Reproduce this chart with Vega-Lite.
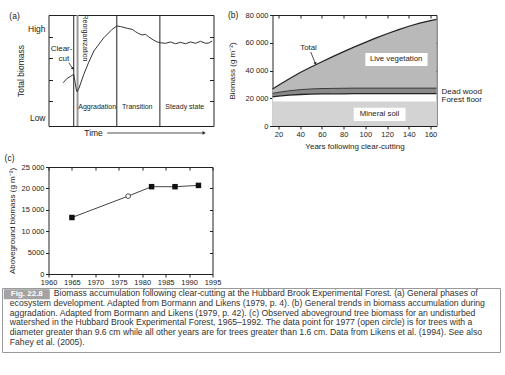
{
  "$schema": "https://vega.github.io/schema/vega-lite/v6.json",
  "padding": {"left": 1.5, "top": 5, "right": 0, "bottom": 0},
  "spacing": 0.5,
  "config": {
    "font": "Liberation Sans",
    "view": {"stroke": "#222", "strokeWidth": 1},
    "axis": {"grid": false, "domain": false, "labelFontSize": 7.5, "labelColor": "#222", "tickColor": "#222", "titleFontSize": 8, "titleFontWeight": "normal", "titleColor": "#222", "tickSize": 3, "labelPadding": 1.5, "labelFlush": false, "labelOverlap": false},
    "text": {"color": "#222"}
  },
  "datasets": {
    "curve": [
      {"t": 8.9, "b": 39.0}, {"t": 11.3, "b": 43.0}, {"t": 13.3, "b": 44.6}, {"t": 15.3, "b": 46.6},
      {"t": 17.0, "b": 31.5}, {"t": 17.4, "b": 30.9}, {"t": 18.5, "b": 34.2}, {"t": 21.4, "b": 46.6},
      {"t": 24.2, "b": 56.8}, {"t": 27.5, "b": 67.6}, {"t": 33.5, "b": 79.5}, {"t": 38.6, "b": 87.1},
      {"t": 41.4, "b": 90.1}, {"t": 43.6, "b": 89.6}, {"t": 47.7, "b": 88.0}, {"t": 50.7, "b": 87.1},
      {"t": 52.7, "b": 85.0}, {"t": 54.7, "b": 83.2}, {"t": 56.8, "b": 82.0}, {"t": 58.8, "b": 82.6},
      {"t": 60.8, "b": 80.2}, {"t": 63.8, "b": 77.3}, {"t": 65.9, "b": 75.7}, {"t": 67.9, "b": 75.0},
      {"t": 70.9, "b": 74.5}, {"t": 73.9, "b": 75.7}, {"t": 77.0, "b": 74.1}, {"t": 80.0, "b": 75.4},
      {"t": 83.0, "b": 74.1}, {"t": 86.1, "b": 75.7}, {"t": 89.1, "b": 74.5}, {"t": 92.1, "b": 76.3},
      {"t": 95.2, "b": 74.5}, {"t": 97.2, "b": 74.8}, {"t": 99.2, "b": 76.6}
    ],
    "bio": [
      {"year": 14.5, "total": 26700, "deadwood": 23500, "floor": 21000, "soil": 17700},
      {"year": 20, "total": 29300, "deadwood": 24300, "floor": 21600, "soil": 17700},
      {"year": 30, "total": 34000, "deadwood": 25400, "floor": 22300, "soil": 17700},
      {"year": 40, "total": 38500, "deadwood": 26200, "floor": 22700, "soil": 17700},
      {"year": 50, "total": 42500, "deadwood": 26700, "floor": 23000, "soil": 17700},
      {"year": 60, "total": 46300, "deadwood": 27000, "floor": 23100, "soil": 17700},
      {"year": 70, "total": 50000, "deadwood": 27100, "floor": 23200, "soil": 17700},
      {"year": 80, "total": 53600, "deadwood": 27200, "floor": 23200, "soil": 17700},
      {"year": 90, "total": 57000, "deadwood": 27300, "floor": 23300, "soil": 17700},
      {"year": 100, "total": 60300, "deadwood": 27300, "floor": 23300, "soil": 17700},
      {"year": 110, "total": 63500, "deadwood": 27300, "floor": 23300, "soil": 17700},
      {"year": 120, "total": 66500, "deadwood": 27300, "floor": 23300, "soil": 17700},
      {"year": 130, "total": 69300, "deadwood": 27300, "floor": 23300, "soil": 17700},
      {"year": 140, "total": 71900, "deadwood": 27300, "floor": 23300, "soil": 17700},
      {"year": 150, "total": 74100, "deadwood": 27300, "floor": 23300, "soil": 17700},
      {"year": 160, "total": 75900, "deadwood": 27300, "floor": 23300, "soil": 17700},
      {"year": 165.5, "total": 76800, "deadwood": 27300, "floor": 23300, "soil": 17700}
    ],
    "hb": [
      {"year": 1965, "biomass": 13200, "dbh": "> 1.6 cm"},
      {"year": 1977, "biomass": 18200, "dbh": "> 9.6 cm"},
      {"year": 1982, "biomass": 20400, "dbh": "> 1.6 cm"},
      {"year": 1987, "biomass": 20400, "dbh": "> 1.6 cm"},
      {"year": 1992, "biomass": 20700, "dbh": "> 1.6 cm"}
    ],
    "caption": [
      {"line": 1, "text": "Biomass accumulation following clear-cutting at the Hubbard Brook Experimental Forest. (a) General phases of"},
      {"line": 2, "text": "ecosystem development. Adapted from Bormann and Likens (1979, p. 4). (b) General trends in biomass accumulation during"},
      {"line": 3, "text": "aggradation. Adapted from Bormann and Likens (1979, p. 42). (c) Observed aboveground tree biomass for an undisturbed"},
      {"line": 4, "text": "watershed in the Hubbard Brook Experimental Forest, 1965–1992. The data point for 1977 (open circle) is for trees with a"},
      {"line": 5, "text": "diameter greater than 9.6 cm while all other years are for trees greater than 1.6 cm. Data from Likens et al. (1994). See also"},
      {"line": 6, "text": "Fahey et al. (2005)."}
    ]
  },
  "vconcat": [
    {
      "spacing": 0,
      "vconcat": [
        {
          "bounds": "flush",
          "spacing": 59,
          "hconcat": [
            {
              "width": 165, "height": 111,
              "layer": [
                {
                  "data": {"values": [{}]},
                  "mark": {"type": "rule", "opacity": 0},
                  "encoding": {
                    "x": {"datum": -28.18, "type": "quantitative", "scale": {"domain": [0, 100], "nice": false}, "axis": null},
                    "y": {"datum": 108.1, "type": "quantitative", "scale": {"domain": [0, 100], "nice": false}, "axis": null},
                    "y2": {"datum": -22.5}
                  }
                },
                {
                  "data": {"values": [{"t": 15.3, "event": "clear-cut"}, {"t": 41.4, "event": "end of aggradation"}, {"t": 67.5, "event": "end of transition"}]},
                  "mark": {"type": "rule", "color": "#222", "strokeWidth": 1},
                  "encoding": {"x": {"field": "t", "type": "quantitative", "scale": {"domain": [0, 100], "nice": false}, "axis": null}}
                },
                {
                  "data": {"values": [{"t": 17.6, "event": "reorganization"}]},
                  "mark": {"type": "rule", "color": "#999", "strokeWidth": 2},
                  "encoding": {"x": {"field": "t", "type": "quantitative", "scale": {"domain": [0, 100], "nice": false}, "axis": null}}
                },
                {
                  "data": {"name": "curve"},
                  "mark": {"type": "line", "color": "#333", "strokeWidth": 1},
                  "encoding": {
                    "x": {"field": "t", "type": "quantitative", "scale": {"domain": [0, 100], "nice": false}, "axis": null},
                    "y": {"field": "b", "type": "quantitative", "scale": {"domain": [0, 100], "nice": false},
                      "axis": {"orient": "left", "values": [8.1, 22.5, 41.4, 61.3, 80.2, 87.4],
                        "labelExpr": "datum.value < 10 ? 'Low' : (datum.value > 85 ? 'High' : '')",
                        "tickSize": -4,
                        "tickOpacity": {"condition": {"test": "datum.value < 10 || datum.value > 85", "value": 0}, "value": 1},
                        "labelFontSize": 8.5, "labelPadding": 7.5, "title": "Total biomass", "titleFontSize": 8.5, "titlePadding": 2}}
                  }
                },
                {
                  "data": {"values": [{"b": 50}]},
                  "mark": {"type": "point", "opacity": 0},
                  "encoding": {
                    "y": {"field": "b", "type": "quantitative", "scale": {"domain": [0, 100], "nice": false},
                      "axis": {"orient": "right", "values": [22.5, 41.4, 61.3, 80.2], "tickSize": -4, "labels": false, "title": null}}
                  }
                },
                {
                  "data": {"values": [{"label": "Aggradation", "t": 29.5, "b": 17.1}, {"label": "Transition", "t": 53.8, "b": 17.1}, {"label": "Steady state", "t": 82.6, "b": 17.1}]},
                  "mark": {"type": "text", "fontSize": 7},
                  "encoding": {
                    "x": {"field": "t", "type": "quantitative", "scale": {"domain": [0, 100], "nice": false}, "axis": null},
                    "y": {"field": "b", "type": "quantitative", "scale": {"domain": [0, 100], "nice": false}, "axis": null},
                    "text": {"field": "label"}
                  }
                },
                {
                  "data": {"values": [{"label": "Clear-", "t": 7.9, "b": 69.1}, {"label": "cut", "t": 9.3, "b": 60.1}]},
                  "mark": {"type": "text", "fontSize": 8},
                  "encoding": {
                    "x": {"field": "t", "type": "quantitative", "scale": {"domain": [0, 100], "nice": false}, "axis": null},
                    "y": {"field": "b", "type": "quantitative", "scale": {"domain": [0, 100], "nice": false}, "axis": null},
                    "text": {"field": "label"}
                  }
                },
                {
                  "data": {"values": [{"label": "Reorganization", "t": 22.4, "b": 79.3}]},
                  "mark": {"type": "text", "fontSize": 7, "angle": 90},
                  "encoding": {
                    "x": {"field": "t", "type": "quantitative", "scale": {"domain": [0, 100], "nice": false}, "axis": null},
                    "y": {"field": "b", "type": "quantitative", "scale": {"domain": [0, 100], "nice": false}, "axis": null},
                    "text": {"field": "label"}
                  }
                },
                {
                  "data": {"values": [{"label": "(a)", "t": -20.6, "b": 99.5}, {"label": "Time", "t": 27.3, "b": -6.3}]},
                  "mark": {"type": "text", "fontSize": 8.5},
                  "encoding": {
                    "x": {"field": "t", "type": "quantitative", "scale": {"domain": [0, 100], "nice": false}, "axis": null},
                    "y": {"field": "b", "type": "quantitative", "scale": {"domain": [0, 100], "nice": false}, "axis": null},
                    "text": {"field": "label"}
                  }
                },
                {
                  "data": {"values": [{}]},
                  "mark": {"type": "rule", "color": "#222", "strokeWidth": 0.8},
                  "encoding": {
                    "x": {"datum": 35.6, "type": "quantitative", "scale": {"domain": [0, 100], "nice": false}, "axis": null},
                    "x2": {"datum": 93.5},
                    "y": {"datum": -6.3, "type": "quantitative", "scale": {"domain": [0, 100], "nice": false}, "axis": null}
                  }
                },
                {
                  "data": {"values": [{}]},
                  "mark": {"type": "point", "shape": "triangle-right", "filled": true, "size": 14, "color": "#222", "opacity": 1},
                  "encoding": {
                    "x": {"datum": 94.3, "type": "quantitative", "scale": {"domain": [0, 100], "nice": false}, "axis": null},
                    "y": {"datum": -6.3, "type": "quantitative", "scale": {"domain": [0, 100], "nice": false}, "axis": null}
                  }
                },
                {
                  "data": {"values": [{}]},
                  "mark": {"type": "rule", "color": "#222", "strokeWidth": 0.8},
                  "encoding": {
                    "x": {"datum": 12.3, "type": "quantitative", "scale": {"domain": [0, 100], "nice": false}, "axis": null},
                    "x2": {"datum": 14.6},
                    "y": {"datum": 57.0, "type": "quantitative", "scale": {"domain": [0, 100], "nice": false}, "axis": null},
                    "y2": {"datum": 52.0}
                  }
                },
                {
                  "data": {"values": [{}]},
                  "mark": {"type": "point", "shape": "triangle", "angle": 149, "filled": true, "size": 10, "color": "#222", "opacity": 1},
                  "encoding": {
                    "x": {"datum": 14.6, "type": "quantitative", "scale": {"domain": [0, 100], "nice": false}, "axis": null},
                    "y": {"datum": 52.0, "type": "quantitative", "scale": {"domain": [0, 100], "nice": false}, "axis": null}
                  }
                }
              ],
              "resolve": {"axis": {"x": "independent", "y": "independent"}}
            },
            {
              "width": 164, "height": 111,
              "data": {"name": "bio"},
              "layer": [
                {
                  "mark": {"type": "area", "color": "#b9b9b9", "opacity": 1},
                  "encoding": {
                    "x": {"field": "year", "type": "quantitative", "scale": {"domain": [14.5, 165.5], "nice": false},
                      "axis": {"orient": "bottom", "values": [20, 40, 60, 80, 100, 120, 140, 160], "title": "Years following clear-cutting", "titlePadding": 4}},
                    "y": {"field": "total", "type": "quantitative", "scale": {"domain": [0, 80000], "nice": false},
                      "axis": {"orient": "left", "values": [0, 20000, 40000, 60000, 80000],
                        "labelExpr": "datum.value >= 10000 ? replace(format(datum.value, ','), ',', ' ') : format(datum.value, 'd')",
                        "title": "Biomass (g m⁻²)", "titlePadding": 9}}
                  }
                },
                {
                  "mark": {"type": "area", "color": "#8a8a8a", "opacity": 1},
                  "encoding": {
                    "x": {"field": "year", "type": "quantitative", "scale": {"domain": [14.5, 165.5], "nice": false}, "axis": null},
                    "y": {"field": "deadwood", "type": "quantitative", "scale": {"domain": [0, 80000], "nice": false}, "axis": null}
                  }
                },
                {
                  "mark": {"type": "area", "color": "#ffffff", "opacity": 1},
                  "encoding": {
                    "x": {"field": "year", "type": "quantitative", "scale": {"domain": [14.5, 165.5], "nice": false}, "axis": null},
                    "y": {"field": "floor", "type": "quantitative", "scale": {"domain": [0, 80000], "nice": false}, "axis": null}
                  }
                },
                {
                  "mark": {"type": "area", "color": "#d3d3d3", "opacity": 1},
                  "encoding": {
                    "x": {"field": "year", "type": "quantitative", "scale": {"domain": [14.5, 165.5], "nice": false}, "axis": null},
                    "y": {"field": "soil", "type": "quantitative", "scale": {"domain": [0, 80000], "nice": false}, "axis": null}
                  }
                },
                {
                  "mark": {"type": "line", "color": "#222", "strokeWidth": 1.2},
                  "encoding": {
                    "x": {"field": "year", "type": "quantitative", "scale": {"domain": [14.5, 165.5], "nice": false},
                      "axis": {"orient": "top", "values": [20, 40, 60, 80, 100, 120, 140, 160], "tickSize": -3, "labels": false, "title": null}},
                    "y": {"field": "total", "type": "quantitative", "scale": {"domain": [0, 80000], "nice": false},
                      "axis": {"orient": "right", "values": [0, 20000, 40000, 60000, 80000], "tickSize": -3, "labels": false, "title": null}}
                  }
                },
                {
                  "mark": {"type": "line", "color": "#222", "strokeWidth": 0.8},
                  "encoding": {
                    "x": {"field": "year", "type": "quantitative", "scale": {"domain": [14.5, 165.5], "nice": false}, "axis": null},
                    "y": {"field": "deadwood", "type": "quantitative", "scale": {"domain": [0, 80000], "nice": false}, "axis": null}
                  }
                },
                {
                  "mark": {"type": "line", "color": "#222", "strokeWidth": 1.3},
                  "encoding": {
                    "x": {"field": "year", "type": "quantitative", "scale": {"domain": [14.5, 165.5], "nice": false}, "axis": null},
                    "y": {"field": "floor", "type": "quantitative", "scale": {"domain": [0, 80000], "nice": false}, "axis": null}
                  }
                },
                {
                  "data": {"values": [{}]},
                  "mark": {"type": "rule", "opacity": 0},
                  "encoding": {
                    "x": {"datum": 40.3, "type": "quantitative", "scale": {"domain": [14.5, 165.5], "nice": false}, "axis": null},
                    "y": {"datum": 86486, "type": "quantitative", "scale": {"domain": [0, 80000], "nice": false}, "axis": null},
                    "y2": {"datum": -18018}
                  }
                },
                {
                  "data": {"values": [{"label": "Live vegetation"}]},
                  "mark": {"type": "rect", "color": "#ffffff"},
                  "encoding": {
                    "x": {"datum": 100, "type": "quantitative", "scale": {"domain": [14.5, 165.5], "nice": false}, "axis": null},
                    "x2": {"datum": 157.3},
                    "y": {"datum": 43240, "type": "quantitative", "scale": {"domain": [0, 80000], "nice": false}, "axis": null},
                    "y2": {"datum": 52610}
                  }
                },
                {
                  "data": {"values": [{"label": "Mineral soil"}]},
                  "mark": {"type": "rect", "color": "#ffffff"},
                  "encoding": {
                    "x": {"datum": 89.3, "type": "quantitative", "scale": {"domain": [14.5, 165.5], "nice": false}, "axis": null},
                    "x2": {"datum": 137},
                    "y": {"datum": 3600, "type": "quantitative", "scale": {"domain": [0, 80000], "nice": false}, "axis": null},
                    "y2": {"datum": 13190}
                  }
                },
                {
                  "data": {"values": [{"label": "Live vegetation", "yr": 128.3, "g": 48070}, {"label": "Mineral soil", "yr": 113, "g": 8650}, {"label": "Total", "yr": 47.7, "g": 56430}]},
                  "mark": {"type": "text", "fontSize": 7.8},
                  "encoding": {
                    "x": {"field": "yr", "type": "quantitative", "scale": {"domain": [14.5, 165.5], "nice": false}, "axis": null},
                    "y": {"field": "g", "type": "quantitative", "scale": {"domain": [0, 80000], "nice": false}, "axis": null},
                    "text": {"field": "label"}
                  }
                },
                {
                  "data": {"values": [{"label": "Dead wood", "yr": 170.1, "g": 24860}, {"label": "Forest floor", "yr": 170.1, "g": 18520}]},
                  "mark": {"type": "text", "fontSize": 8, "align": "left"},
                  "encoding": {
                    "x": {"field": "yr", "type": "quantitative", "scale": {"domain": [14.5, 165.5], "nice": false}, "axis": null},
                    "y": {"field": "g", "type": "quantitative", "scale": {"domain": [0, 80000], "nice": false}, "axis": null},
                    "text": {"field": "label"}
                  }
                },
                {
                  "data": {"values": [{"label": "(b)", "yr": -21.8, "g": 79640}]},
                  "mark": {"type": "text", "fontSize": 8.5},
                  "encoding": {
                    "x": {"field": "yr", "type": "quantitative", "scale": {"domain": [14.5, 165.5], "nice": false}, "axis": null},
                    "y": {"field": "g", "type": "quantitative", "scale": {"domain": [0, 80000], "nice": false}, "axis": null},
                    "text": {"field": "label"}
                  }
                },
                {
                  "data": {"values": [{}]},
                  "mark": {"type": "rule", "color": "#222", "strokeWidth": 0.8},
                  "encoding": {
                    "x": {"datum": 49.7, "type": "quantitative", "scale": {"domain": [14.5, 165.5], "nice": false}, "axis": null},
                    "x2": {"datum": 53.9},
                    "y": {"datum": 53330, "type": "quantitative", "scale": {"domain": [0, 80000], "nice": false}, "axis": null},
                    "y2": {"datum": 45300}
                  }
                },
                {
                  "data": {"values": [{}]},
                  "mark": {"type": "point", "shape": "triangle", "angle": 158, "filled": true, "size": 10, "color": "#222", "opacity": 1},
                  "encoding": {
                    "x": {"datum": 53.9, "type": "quantitative", "scale": {"domain": [14.5, 165.5], "nice": false}, "axis": null},
                    "y": {"datum": 45300, "type": "quantitative", "scale": {"domain": [0, 80000], "nice": false}, "axis": null}
                  }
                }
              ],
              "resolve": {"axis": {"x": "independent", "y": "independent"}}
            }
          ]
        },
        {
          "width": 164, "height": 107,
          "data": {"name": "hb"},
          "layer": [
            {
              "data": {"values": [{}]},
              "mark": {"type": "rule", "opacity": 0},
              "encoding": {
                "x": {"datum": 1950.08, "type": "quantitative", "scale": {"domain": [1960, 1995], "nice": false, "zero": false}, "axis": null},
                "y": {"datum": 28271, "type": "quantitative", "scale": {"domain": [0, 25000], "nice": false}, "axis": null},
                "y2": {"datum": -2804}
              }
            },
            {
              "mark": {"type": "line", "color": "#444", "strokeWidth": 1},
              "encoding": {
                "x": {"field": "year", "type": "quantitative", "scale": {"domain": [1960, 1995], "nice": false, "zero": false},
                  "axis": {"orient": "bottom", "values": [1960, 1965, 1970, 1975, 1980, 1985, 1990, 1995], "format": "d", "title": null}},
                "y": {"field": "biomass", "type": "quantitative", "scale": {"domain": [0, 25000], "nice": false},
                  "axis": {"orient": "left", "values": [0, 5000, 10000, 15000, 20000, 25000],
                    "labelExpr": "datum.value >= 10000 ? replace(format(datum.value, ','), ',', ' ') : format(datum.value, 'd')",
                    "title": "Aboveground biomass (g m⁻²)", "titlePadding": 5}}
              }
            },
            {
              "transform": [{"filter": "datum.dbh == '> 1.6 cm'"}],
              "mark": {"type": "square", "color": "#111", "size": 30, "opacity": 1},
              "encoding": {
                "x": {"field": "year", "type": "quantitative", "scale": {"domain": [1960, 1995], "nice": false, "zero": false},
                  "axis": {"orient": "top", "values": [1960, 1965, 1970, 1975, 1980, 1985, 1990, 1995], "tickSize": -3, "labels": false, "title": null}},
                "y": {"field": "biomass", "type": "quantitative", "scale": {"domain": [0, 25000], "nice": false},
                  "axis": {"orient": "right", "values": [0, 5000, 10000, 15000, 20000, 25000], "tickSize": -3, "labels": false, "title": null}}
              }
            },
            {
              "transform": [{"filter": "datum.dbh == '> 9.6 cm'"}],
              "mark": {"type": "point", "shape": "circle", "filled": true, "fill": "#ffffff", "stroke": "#222", "strokeWidth": 0.8, "size": 22, "opacity": 1},
              "encoding": {
                "x": {"field": "year", "type": "quantitative", "scale": {"domain": [1960, 1995], "nice": false, "zero": false}, "axis": null},
                "y": {"field": "biomass", "type": "quantitative", "scale": {"domain": [0, 25000], "nice": false}, "axis": null}
              }
            },
            {
              "data": {"values": [{"label": "(c)", "year": 1951.68, "biomass": 27100}]},
              "mark": {"type": "text", "fontSize": 8.5},
              "encoding": {
                "x": {"field": "year", "type": "quantitative", "scale": {"domain": [1960, 1995], "nice": false, "zero": false}, "axis": null},
                "y": {"field": "biomass", "type": "quantitative", "scale": {"domain": [0, 25000], "nice": false}, "axis": null},
                "text": {"field": "label"}
              }
            }
          ],
          "resolve": {"axis": {"x": "independent", "y": "independent"}}
        }
      ]
    },
    {
      "width": 452, "height": 64,
      "view": {"stroke": null},
      "layer": [
        {
          "data": {"values": [{"caption": "Fig. 22.8"}]},
          "mark": {"type": "rect", "fill": null, "stroke": "#9a9a9a", "strokeWidth": 1},
          "encoding": {
            "x": {"datum": -46, "type": "quantitative", "scale": {"domain": [0, 452], "nice": false}, "axis": null},
            "x2": {"datum": 452},
            "y": {"datum": 0.513, "type": "quantitative", "scale": {"domain": [0.513, 7.138], "nice": false, "zero": false, "reverse": true}, "axis": null},
            "y2": {"datum": 7.138}
          }
        },
        {
          "data": {"values": [{"fig": "Fig. 22.8"}]},
          "mark": {"type": "rect", "color": "#a3a3a3"},
          "encoding": {
            "x": {"datum": -44.7, "type": "quantitative", "scale": {"domain": [0, 452], "nice": false}, "axis": null},
            "x2": {"datum": 1.3},
            "y": {"datum": 0.585, "type": "quantitative", "scale": {"domain": [0.513, 7.138], "nice": false, "zero": false, "reverse": true}, "axis": null},
            "y2": {"datum": 1.621}
          }
        },
        {
          "data": {"values": [{"fig": "Fig. 22.8"}]},
          "mark": {"type": "text", "color": "#ffffff", "fontWeight": "bold", "fontSize": 8},
          "encoding": {
            "x": {"datum": -21.7, "type": "quantitative", "scale": {"domain": [0, 452], "nice": false}, "axis": null},
            "y": {"datum": 1.1, "type": "quantitative", "scale": {"domain": [0.513, 7.138], "nice": false, "zero": false, "reverse": true}, "axis": null},
            "text": {"field": "fig"}
          }
        },
        {
          "data": {"name": "caption"},
          "transform": [{"filter": "datum.line == 1"}],
          "mark": {"type": "text", "align": "left", "fontSize": 8.65, "color": "#333"},
          "encoding": {
            "x": {"datum": 5.3, "type": "quantitative", "scale": {"domain": [0, 452], "nice": false}, "axis": null},
            "y": {"field": "line", "type": "quantitative", "scale": {"domain": [0.513, 7.138], "nice": false, "zero": false, "reverse": true}, "axis": null},
            "text": {"field": "text"}
          }
        },
        {
          "data": {"name": "caption"},
          "transform": [{"filter": "datum.line > 1"}],
          "mark": {"type": "text", "align": "left", "fontSize": 8.65, "color": "#333"},
          "encoding": {
            "x": {"datum": -38.7, "type": "quantitative", "scale": {"domain": [0, 452], "nice": false}, "axis": null},
            "y": {"field": "line", "type": "quantitative", "scale": {"domain": [0.513, 7.138], "nice": false, "zero": false, "reverse": true}, "axis": null},
            "text": {"field": "text"}
          }
        }
      ]
    }
  ]
}
